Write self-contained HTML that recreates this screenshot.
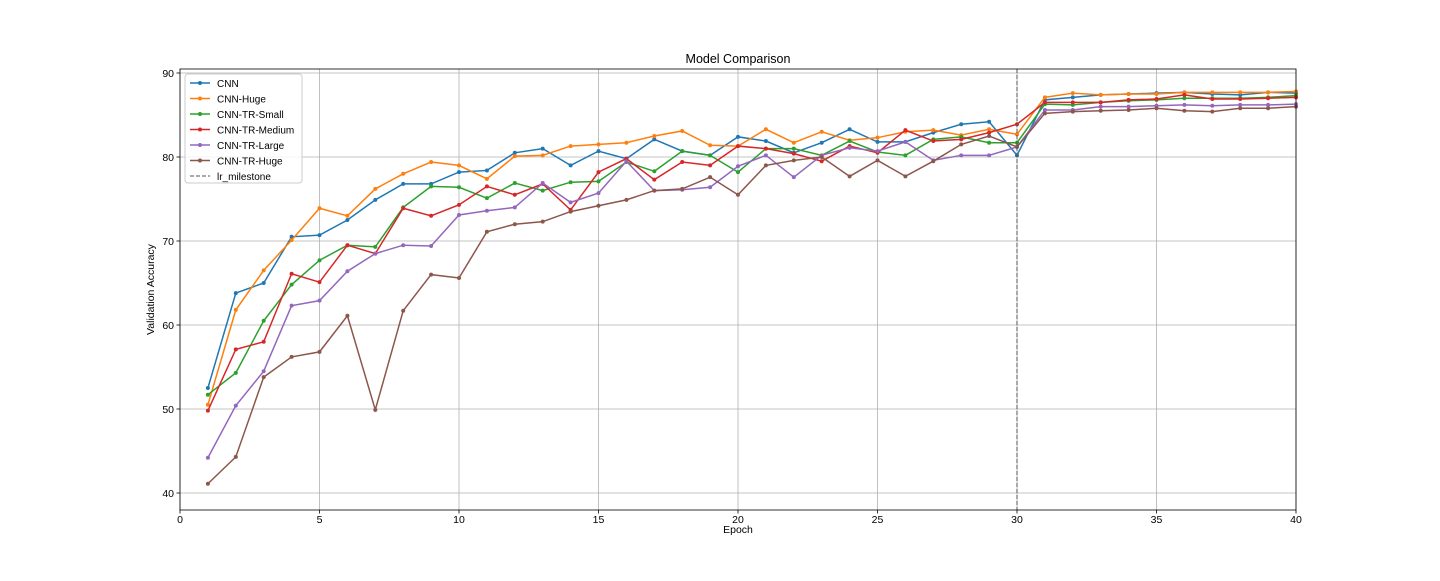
<!DOCTYPE html>
<html><head><meta charset="utf-8"><style>
body{margin:0;background:#fff;width:1440px;height:576px;overflow:hidden}
svg{font-family:"Liberation Sans","DejaVu Sans",sans-serif}
</style></head><body>
<svg id="chart" width="1440" height="576" xmlns="http://www.w3.org/2000/svg">
<rect width="1440" height="576" fill="#fff"/>
<g id="grid"></g><g id="series"></g><g id="axes"></g><g id="legend"></g>
</svg>
<script>
const epochs=[];for(let i=1;i<=40;i++)epochs.push(i);
const seriesNames=["CNN","CNN-Huge","CNN-TR-Small","CNN-TR-Medium","CNN-TR-Large","CNN-TR-Huge"];
const colors=["#1f77b4","#ff7f0e","#2ca02c","#d62728","#9467bd","#8c564b"];
const cnn=[52.5,63.8,65,70.5,70.7,72.5,74.9,76.8,76.8,78.2,78.4,80.5,81,79,80.7,79.8,82.1,80.7,80.2,82.4,81.9,80.5,81.7,83.3,81.8,81.8,82.9,83.9,84.2,80.2,86.8,87.1,87.4,87.5,87.6,87.7,87.5,87.4,87.7,87.6];
const cnnHuge=[50.5,61.8,66.5,70.1,73.9,73,76.2,78,79.4,79,77.4,80.1,80.2,81.3,81.5,81.7,82.5,83.1,81.4,81.3,83.3,81.7,83,82,82.3,83,83.2,82.6,83.3,82.7,87.1,87.6,87.4,87.5,87.5,87.7,87.7,87.7,87.7,87.8];
const trSmall=[51.7,54.3,60.5,64.8,67.7,69.5,69.3,74,76.5,76.4,75.1,76.9,76,77,77.1,79.4,78.3,80.7,80.2,78.2,81,81,80.2,81.9,80.6,80.2,82.1,82.4,81.7,81.7,86.3,86.2,86.5,86.7,86.8,87,87,87,87.1,87.3];
const trMedium=[49.8,57.1,58,66.1,65.1,69.5,68.5,73.9,73,74.3,76.5,75.5,76.8,73.7,78.2,79.8,77.3,79.4,79,81.3,81,80.4,79.5,81.3,80.5,83.2,81.9,82.1,82.9,83.9,86.5,86.5,86.5,86.8,86.9,87.4,86.9,86.9,87,87.1];
const trLarge=[44.2,50.4,54.5,62.3,62.9,66.4,68.5,69.5,69.4,73.1,73.6,74,76.9,74.6,75.7,79.5,76,76.1,76.4,78.9,80.2,77.6,80.2,81.1,80.7,81.8,79.6,80.2,80.2,81.2,85.6,85.6,86,86,86.1,86.2,86.1,86.2,86.2,86.3];
const trHuge=[41.1,44.3,53.8,56.2,56.8,61.1,49.9,61.7,66,65.6,71.1,72,72.3,73.5,74.2,74.9,76,76.2,77.6,75.5,79,79.6,80,77.7,79.6,77.7,79.5,81.5,82.5,81.2,85.2,85.4,85.5,85.6,85.8,85.5,85.4,85.8,85.8,86];
const allSeries=[cnn,cnnHuge,trSmall,trMedium,trLarge,trHuge];
const xTicks=[0,5,10,15,20,25,30,35,40];
const yTicks=[40,50,60,70,80,90];
const milestone=30;

const L=180,R=1296,T=69,B=510;
const x=v=>L+(v-0)/(40-0)*(R-L);
const y=v=>493+(40-v)*8.4;
const NS="http://www.w3.org/2000/svg";
function mk(tag,attrs,parent){const e=document.createElementNS(NS,tag);for(const k in attrs)e.setAttribute(k,attrs[k]);parent.appendChild(e);return e;}
const grid=document.getElementById('grid'),ser=document.getElementById('series'),ax=document.getElementById('axes'),lg=document.getElementById('legend');
xTicks.forEach(t=>{const g=mk('line',{x1:x(t),x2:x(t),y1:T,y2:B,stroke:'#b0b0b0','stroke-width':0.8},grid);

mk('line',{x1:x(t),x2:x(t),y1:B,y2:B+3.5,stroke:'#000','stroke-width':0.8},ax);
const tx=mk('text',{x:x(t),y:B+13,'font-size':10.5,'text-anchor':'middle'},ax);tx.textContent=t;
});
yTicks.forEach(t=>{const g=mk('line',{x1:L,x2:R,y1:y(t),y2:y(t),stroke:'#b0b0b0','stroke-width':0.8},grid);

mk('line',{x1:L-3.5,x2:L,y1:y(t),y2:y(t),stroke:'#000','stroke-width':0.8},ax);
const tx=mk('text',{x:L-6,y:y(t)+4,'font-size':10.5,'text-anchor':'end'},ax);tx.textContent=t;
});
allSeries.forEach((s,i)=>{const p=mk('polyline',{points:s.map((v,j)=>x(epochs[j])+','+y(v)).join(' '),fill:'none',stroke:colors[i],'stroke-width':1.5},ser);

s.forEach((v,j)=>{const c=mk('circle',{cx:x(epochs[j]),cy:y(v),r:2,fill:colors[i]},ser);
});});
const ml=mk('line',{x1:x(milestone),x2:x(milestone),y1:T,y2:B,stroke:'#555','stroke-width':1,'stroke-dasharray':'4,2'},ser);

const fr=mk('rect',{x:L,y:T,width:R-L,height:B-T,fill:'none',stroke:'#000','stroke-width':0.8},ax);

const tt=mk('text',{x:(L+R)/2,y:63,'font-size':12.5,'text-anchor':'middle'},ax);tt.textContent='Model Comparison';

const xl=mk('text',{x:(L+R)/2,y:533,'font-size':10.5,'text-anchor':'middle'},ax);xl.textContent='Epoch';

const yl=mk('text',{x:154,y:(T+B)/2,'font-size':10.5,'text-anchor':'middle',transform:'rotate(-90 154 '+(T+B)/2+')'},ax);yl.textContent='Validation Accuracy';

const lb=mk('rect',{x:185,y:74,width:117,height:109,rx:3,fill:'#fff','fill-opacity':0.85,stroke:'#ccc'},lg);

const names=seriesNames.concat(['lr_milestone']);
names.forEach((n,i)=>{const yy=83+i*15.5;
const ln=mk('line',{x1:190,x2:210,y1:yy,y2:yy,stroke:i<6?colors[i]:'#555','stroke-width':i<6?1.5:1,'stroke-dasharray':i<6?'':'4,2'},lg);

if(i<6)mk('circle',{cx:200,cy:yy,r:2,fill:colors[i]},lg);
const t=mk('text',{x:217,y:yy+4,'font-size':10},lg);t.textContent=n;
});
</script>
</body></html>
